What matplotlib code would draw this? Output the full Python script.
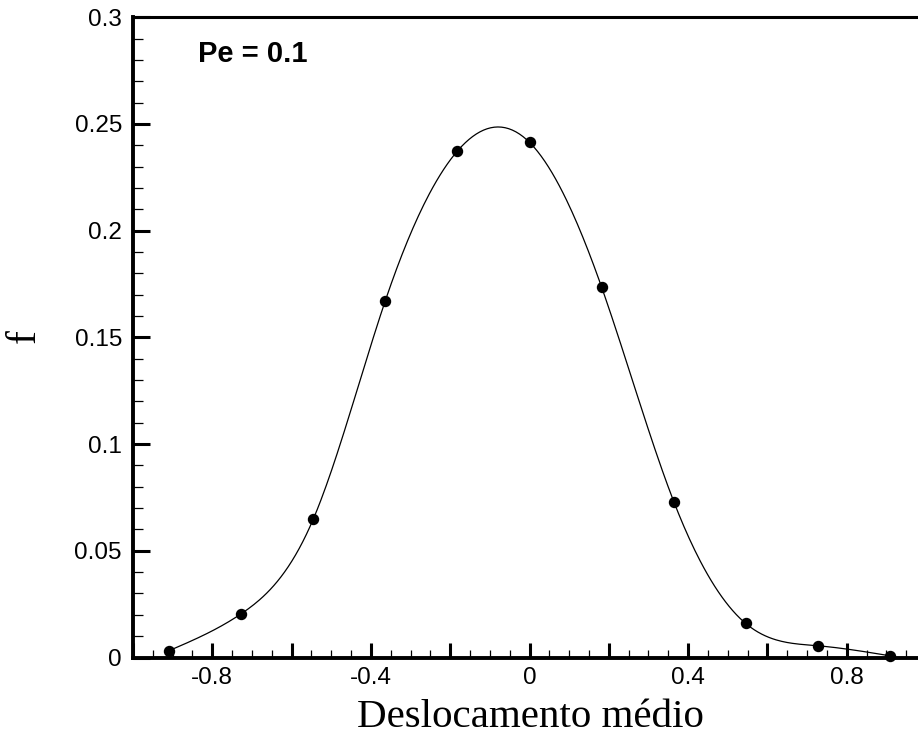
import numpy as np
import matplotlib
matplotlib.use("Agg")
import matplotlib.pyplot as plt
from matplotlib.ticker import MultipleLocator, FixedLocator, FixedFormatter

# data
x_vals = [-0.909, -0.727, -0.545, -0.364, -0.182, 0.0, 0.182, 0.364, 0.545, 0.727, 0.909]
f_vals = [0.0032, 0.0205, 0.0650, 0.1670, 0.2373, 0.2414, 0.1735, 0.0730, 0.0160, 0.0055, 0.0008]
x_tick_vals = [-0.8, -0.4, 0.0, 0.4, 0.8]
x_tick_labels = ["-0.8", "-0.4", "0", "0.4", "0.8"]
y_tick_vals = [0, 0.05, 0.1, 0.15, 0.2, 0.25, 0.3]
y_tick_labels = ["0", "0.05", "0.1", "0.15", "0.2", "0.25", "0.3"]


def natural_spline(x, y, xs):
    x = np.asarray(x, float); y = np.asarray(y, float)
    n = len(x)
    h = np.diff(x)
    A = np.zeros((n, n)); b = np.zeros(n)
    A[0, 0] = 1; A[-1, -1] = 1
    for i in range(1, n - 1):
        A[i, i - 1] = h[i - 1]
        A[i, i] = 2 * (h[i - 1] + h[i])
        A[i, i + 1] = h[i]
        b[i] = 6 * ((y[i + 1] - y[i]) / h[i] - (y[i] - y[i - 1]) / h[i - 1])
    M = np.linalg.solve(A, b)
    idx = np.clip(np.searchsorted(x, xs) - 1, 0, n - 2)
    xi = x[idx]; xi1 = x[idx + 1]; hi = h[idx]
    return (M[idx] * (xi1 - xs) ** 3 / (6 * hi) + M[idx + 1] * (xs - xi) ** 3 / (6 * hi)
            + (y[idx] / hi - M[idx] * hi / 6) * (xi1 - xs)
            + (y[idx + 1] / hi - M[idx + 1] * hi / 6) * (xs - xi))


fig = plt.figure(figsize=(9.18, 7.38), dpi=100)
ax = fig.add_axes([133 / 918, 1 - 657.5 / 738, (926 - 133) / 918, (657.5 - 17.3) / 738])

xs = np.linspace(x_vals[0], x_vals[-1], 400)
ax.plot(xs, natural_spline(x_vals, f_vals, xs), color="black", lw=0.9)
ax.plot(x_vals, f_vals, "o", color="black", ms=7.2, clip_on=False, zorder=5)

ax.set_xlim(-1.0, 1.0)
ax.set_ylim(0, 0.3)

ax.xaxis.set_major_locator(MultipleLocator(0.2))
ax.xaxis.set_minor_locator(MultipleLocator(0.05))
ax.set_xticklabels([])
ax.yaxis.set_major_locator(FixedLocator(y_tick_vals))
ax.yaxis.set_major_formatter(FixedFormatter(y_tick_labels))
ax.yaxis.set_minor_locator(MultipleLocator(0.01))

for t, lab in zip(x_tick_vals, x_tick_labels):
    ax.annotate(lab, xy=(t, 0), xycoords=("data", "axes fraction"), xytext=(0, -7),
                textcoords="offset points", ha="center", va="top",
                fontsize=17.5, family="Liberation Sans")

ax.tick_params(axis="x", which="major", direction="in", length=11, width=2.2, top=False)
ax.tick_params(axis="x", which="minor", direction="in", length=6, width=0.9, top=False)
ax.tick_params(axis="y", which="major", direction="in", length=12, width=2.2, right=False,
               pad=8, labelsize=17.5)
ax.tick_params(axis="y", which="minor", direction="in", length=7, width=0.9, right=False)
for lab in ax.get_yticklabels():
    lab.set_family("Liberation Sans")

ax.spines["left"].set_linewidth(2.8)
ax.spines["bottom"].set_linewidth(2.8)
ax.spines["top"].set_linewidth(2.2)
ax.spines["right"].set_visible(False)

fig.text(530 / 918, 1 - 727 / 738, "Deslocamento médio", ha="center", va="baseline",
         fontsize=29.5, family="Liberation Serif")
fig.text(25 / 918, 1 - 336 / 738, "f", ha="center", va="center", rotation=90,
         fontsize=30, family="Liberation Serif")
fig.text(198 / 918, 1 - 62 / 738, "Pe = 0.1", ha="left", va="baseline",
         fontsize=21, family="Liberation Sans", weight="bold")

fig.savefig("out.png", dpi=100)
